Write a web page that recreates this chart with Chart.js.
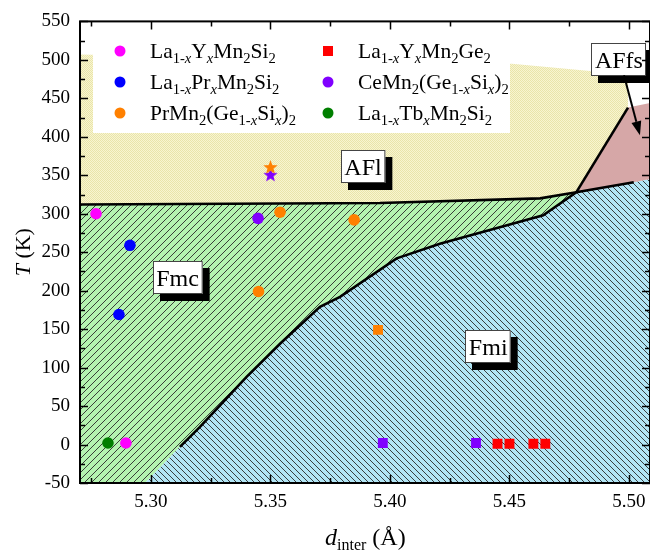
<!DOCTYPE html>
<html><head><meta charset="utf-8">
<script src="https://cdn.jsdelivr.net/npm/chart.js@4.4.0/dist/chart.umd.min.js"></script>
<style>html,body{margin:0;padding:0;background:#fff;}#wrap{width:650px;height:552px;}</style>
</head><body><div id="wrap"><canvas id="c" width="650" height="552"></canvas></div>
<script>
// ---------- data ----------
const xTickValues = [5.30, 5.35, 5.40, 5.45, 5.50];
const yTickValues = [-50, 0, 50, 100, 150, 200, 250, 300, 350, 400, 450, 500, 550];
const xMin = 5.2703, xMax = 5.5088, yMin = -50, yMax = 550;

const seriesNames = [
  'La_{1-x}Y_{x}Mn_{2}Si_{2}',
  'La_{1-x}Pr_{x}Mn_{2}Si_{2}',
  'PrMn_{2}(Ge_{1-x}Si_{x})_{2}',
  'La_{1-x}Y_{x}Mn_{2}Ge_{2}',
  'CeMn_{2}(Ge_{1-x}Si_{x})_{2}',
  'La_{1-x}Tb_{x}Mn_{2}Si_{2}'
];
const seriesColors = ['#ff00ff', '#0000ff', '#ff8000', '#ff0000', '#8000ff', '#007f00'];
const seriesLegendMarker = ['circle', 'circle', 'circle', 'rect', 'circle', 'circle'];

// measured points (x = d_inter in Å, T in K)
const laYSi_x = [5.277, 5.2895],          laYSi_T = [300, 2];
const laPrSi_x = [5.2912, 5.2866],        laPrSi_T = [259, 169];
const prGeSi_circ_x = [5.354, 5.385, 5.345], prGeSi_circ_T = [302, 292, 199];
const prGeSi_sq_x = [5.395],              prGeSi_sq_T = [149];
const prGeSi_star_x = [5.350],            prGeSi_star_T = [360];
const laYGe_x = [5.445, 5.450, 5.460, 5.465], laYGe_T = [1, 1, 1, 1];
const ceGeSi_circ_x = [5.3448],           ceGeSi_circ_T = [294];
const ceGeSi_sq_x = [5.397, 5.436],       ceGeSi_sq_T = [2, 2];
const ceGeSi_star_x = [5.350],            ceGeSi_star_T = [350];
const laTbSi_x = [5.282],                 laTbSi_T = [2];

// phase boundaries
const aflFmc_x = [5.2703, 5.3958, 5.4628, 5.478];
const aflFmc_T = [312, 314, 320, 328];
const fmi_x = [5.3121, 5.3205, 5.3400, 5.3540, 5.3707, 5.3791, 5.4028, 5.4209, 5.4641, 5.478, 5.502];
const fmi_T = [-3, 23, 88, 131, 179, 192, 242, 261, 298, 328, 341];
const affs_x = [5.478, 5.4996];
const affs_T = [328, 438];
// region outline extras
const fmiBottom = {x: 5.2975, T: -50};
const yellowTop_x = [5.4996, 5.451, 5.2703], yellowTop_T = [481, 495, 507];
const pinkTop_x = [5.4996, 5.5088], pinkTop_T = [438, 444];
const rightEdge_T = 345;

// labels (data coords of box centres)
const phaseLabels = [
  {text: 'AFl', x: 5.3887, T: 362},
  {text: 'Fmc', x: 5.3111, T: 217},
  {text: 'Fmi', x: 5.4411, T: 127},
  {text: 'AFfs', x: 5.4958, T: 501}
];
const arrowFrom = {x: 5.4979, T: 480}, arrowTo = {x: 5.5046, T: 402};

// ---------- helpers ----------
const P = (xs, ts) => xs.map((x, i) => ({x: x, y: ts[i]}));
const FONT = '"Liberation Serif", "Times New Roman", serif';

function hatch(bg, dir, p, lw) {
  const c = document.createElement('canvas'); c.width = p; c.height = p;
  const g = c.getContext('2d');
  g.fillStyle = bg; g.fillRect(0, 0, p, p);
  g.strokeStyle = '#2a2a2a'; g.lineWidth = lw;
  g.beginPath();
  for (let k = -1; k <= 1; k++) {
    if (dir === '/') { g.moveTo(k * p - 1, p + 1); g.lineTo(k * p + p + 1, -1); }
    else { g.moveTo(k * p - 1, -1); g.lineTo(k * p + p + 1, p + 1); }
  }
  g.stroke();
  return g.createPattern(c, 'repeat');
}
function dots() {
  const c = document.createElement('canvas'); c.width = 2; c.height = 2;
  const g = c.getContext('2d');
  g.fillStyle = '#f8f5d0'; g.fillRect(0, 0, 2, 2);
  g.fillStyle = '#e9e4aa'; g.fillRect(0, 0, 1, 1); g.fillRect(1, 1, 1, 1);
  return g.createPattern(c, 'repeat');
}
function star(color, R) {
  const s = Math.ceil(2 * R + 2);
  const c = document.createElement('canvas'); c.width = s; c.height = s;
  const g = c.getContext('2d');
  g.fillStyle = color; g.beginPath();
  for (let i = 0; i < 10; i++) {
    const r = i % 2 ? R * 0.42 : R;
    const a = -Math.PI / 2 + i * Math.PI / 5;
    g.lineTo(s / 2 + r * Math.cos(a), s / 2 + r * Math.sin(a));
  }
  g.closePath(); g.fill();
  return c;
}

function richRuns(str) {
  const runs = [];
  const push = (t, sub) => {
    let buf = '';
    for (const ch of t) {
      if (ch === 'x') { if (buf) runs.push({t: buf, sub, it: false}); buf = ''; runs.push({t: 'x', sub, it: true}); }
      else buf += ch;
    }
    if (buf) runs.push({t: buf, sub, it: false});
  };
  let i = 0;
  while (i < str.length) {
    if (str[i] === '_' && str[i + 1] === '{') {
      const j = str.indexOf('}', i); push(str.slice(i + 2, j), true); i = j + 1;
    } else {
      let j = str.indexOf('_{', i); if (j < 0) j = str.length;
      push(str.slice(i, j), false); i = j;
    }
  }
  return runs;
}
function drawRich(ctx, str, x, y, size) {
  ctx.textAlign = 'left'; ctx.textBaseline = 'alphabetic'; ctx.fillStyle = '#000';
  for (const r of richRuns(str)) {
    const fs = r.sub ? size * 0.68 : size;
    ctx.font = (r.it ? 'italic ' : '') + fs + 'px ' + FONT;
    ctx.fillText(r.t, x, y + (r.sub ? size * 0.24 : 0));
    x += ctx.measureText(r.t).width;
  }
  return x;
}

// ---------- regions ----------
const yellowPoly = P(aflFmc_x, aflFmc_T).concat(P(affs_x.slice(1), affs_T.slice(1)), P(yellowTop_x, yellowTop_T));
const fmiPts = P(fmi_x, fmi_T);
const fmcIdx = fmi_x.indexOf(5.478);
const greenPoly = [{x: xMin, y: yMin}, {x: fmiBottom.x, y: fmiBottom.T}]
  .concat(fmiPts.slice(0, fmcIdx + 1), P(aflFmc_x, aflFmc_T).reverse());
const bluePoly = [{x: fmiBottom.x, y: fmiBottom.T}].concat(fmiPts, [{x: xMax, y: rightEdge_T}, {x: xMax, y: yMin}]);
const pinkPoly = P(affs_x, affs_T).concat(P(pinkTop_x, pinkTop_T), [{x: xMax, y: rightEdge_T}], fmiPts.slice(fmcIdx + 1).reverse());

const region = (data, bg, order) => ({type: 'line', data, fill: 'shape', backgroundColor: bg,
  borderWidth: 0, borderColor: 'rgba(0,0,0,0)', pointRadius: 0, tension: 0, order});
const bline = (data) => ({type: 'line', data, fill: false, borderColor: '#000', borderWidth: 2.6,
  pointRadius: 0, tension: 0, order: 5});
const pts = (data, color, style, r) => ({type: 'scatter', data, backgroundColor: color, borderColor: color,
  borderWidth: 0, pointStyle: style, pointRadius: r, pointHoverRadius: r, order: 0});

const datasets = [
  region(yellowPoly, dots(), 20),
  region(greenPoly, hatch('#b4f3b0', '/', 7, 0.9), 19),
  region(bluePoly, hatch('#b2e5f5', '\\', 6, 0.9), 18),
  region(pinkPoly, '#d6a7a7', 17),
  bline(P(aflFmc_x, aflFmc_T)),
  bline(fmiPts),
  bline(P(affs_x, affs_T)),
  pts(P(laYSi_x, laYSi_T), seriesColors[0], 'circle', 5.8),
  pts(P(laPrSi_x, laPrSi_T), seriesColors[1], 'circle', 5.8),
  pts(P(prGeSi_circ_x, prGeSi_circ_T), seriesColors[2], 'circle', 5.8),
  pts(P(prGeSi_sq_x, prGeSi_sq_T), seriesColors[2], 'rect', 7),
  pts(P(prGeSi_star_x, prGeSi_star_T), seriesColors[2], star(seriesColors[2], 7.5), 7),
  pts(P(laYGe_x, laYGe_T), seriesColors[3], 'rect', 7),
  pts(P(ceGeSi_circ_x, ceGeSi_circ_T), seriesColors[4], 'circle', 5.8),
  pts(P(ceGeSi_sq_x, ceGeSi_sq_T), seriesColors[4], 'rect', 7),
  pts(P(ceGeSi_star_x, ceGeSi_star_T), seriesColors[4], star(seriesColors[4], 7.5), 7),
  pts(P(laTbSi_x, laTbSi_T), seriesColors[5], 'circle', 5.8)
];

// ---------- overlay plugin ----------
const overlay = {
  id: 'overlay',
  afterDatasetsDraw(chart) {
    const ctx = chart.ctx, a = chart.chartArea, sx = chart.scales.x, sy = chart.scales.y;
    ctx.save();
    // legend box
    ctx.fillStyle = '#fff';
    ctx.fillRect(93, a.top + 1, 417, 133 - a.top - 1);
    const colX = [120, 328], txtX = [150, 358], rowY = [51, 82, 113];
    seriesNames.forEach((name, i) => {
      const c = Math.floor(i / 3), r = i % 3;
      ctx.fillStyle = seriesColors[i];
      if (seriesLegendMarker[i] === 'rect') ctx.fillRect(colX[c] - 5, rowY[r] - 5, 10, 10);
      else { ctx.beginPath(); ctx.arc(colX[c], rowY[r], 5.5, 0, Math.PI * 2); ctx.fill(); }
      drawRich(ctx, name, txtX[c], rowY[r] + 7, 21.5);
    });
    // phase labels
    ctx.font = '24px ' + FONT;
    phaseLabels.forEach(l => {
      const cx = sx.getPixelForValue(l.x), cy = sy.getPixelForValue(l.T);
      const w = ctx.measureText(l.text).width + 7, h = 33;
      const x0 = Math.round(cx - w / 2), y0 = Math.round(cy - h / 2);
      ctx.fillStyle = '#000'; ctx.fillRect(x0 + 7, y0 + 7, w, h);
      ctx.fillStyle = '#fff'; ctx.fillRect(x0, y0, w, h);
      ctx.strokeStyle = '#444'; ctx.lineWidth = 1; ctx.strokeRect(x0 + 0.5, y0 + 0.5, w - 1, h - 1);
      ctx.fillStyle = '#000'; ctx.textAlign = 'center'; ctx.textBaseline = 'alphabetic';
      ctx.fillText(l.text, cx, y0 + 25);
    });
    // arrow
    const ax0 = sx.getPixelForValue(arrowFrom.x), ay0 = sy.getPixelForValue(arrowFrom.T);
    const ax1 = sx.getPixelForValue(arrowTo.x), ay1 = sy.getPixelForValue(arrowTo.T);
    const ang = Math.atan2(ay1 - ay0, ax1 - ax0), L = 14, W = 5;
    ctx.strokeStyle = '#000'; ctx.lineWidth = 2;
    ctx.beginPath(); ctx.moveTo(ax0, ay0);
    ctx.lineTo(ax1 - L * Math.cos(ang), ay1 - L * Math.sin(ang)); ctx.stroke();
    ctx.fillStyle = '#000'; ctx.beginPath(); ctx.moveTo(ax1, ay1);
    ctx.lineTo(ax1 - L * Math.cos(ang) + W * Math.sin(ang), ay1 - L * Math.sin(ang) - W * Math.cos(ang));
    ctx.lineTo(ax1 - L * Math.cos(ang) - W * Math.sin(ang), ay1 - L * Math.sin(ang) + W * Math.cos(ang));
    ctx.closePath(); ctx.fill();
    // frame
    ctx.strokeStyle = '#000'; ctx.lineWidth = 2;
    ctx.strokeRect(a.left, a.top, a.right - a.left, a.bottom - a.top);
    ctx.lineWidth = 1.5;
    ctx.beginPath();
    const xt = [];
    xTickValues.forEach(v => xt.push([v, 8]));
    for (let i = 0; i <= xTickValues.length; i++) {
      const v = (i === 0 ? xTickValues[0] - 0.025 : xTickValues[i - 1] + 0.025);
      if (v > xMin && v < xMax) xt.push([v, 5]);
    }
    xt.forEach(([v, len]) => {
      const px = Math.round(sx.getPixelForValue(v)) + 0.5;
      ctx.moveTo(px, a.bottom); ctx.lineTo(px, a.bottom - len);
      ctx.moveTo(px, a.top); ctx.lineTo(px, a.top + len);
    });
    const yt = [];
    yTickValues.forEach((v, i) => { yt.push([v, 8]); if (i < yTickValues.length - 1) yt.push([v + 25, 5]); });
    yt.forEach(([v, len]) => {
      const py = Math.round(sy.getPixelForValue(v)) + 0.5;
      ctx.moveTo(a.left, py); ctx.lineTo(a.left + len, py);
      ctx.moveTo(a.right, py); ctx.lineTo(a.right - len, py);
    });
    ctx.stroke();
    // x tick labels (through the x scale)
    ctx.fillStyle = '#000'; ctx.textAlign = 'center'; ctx.textBaseline = 'top';
    ctx.font = '19px ' + FONT;
    xTickValues.forEach(v => ctx.fillText(v.toFixed(2), sx.getPixelForValue(v), a.bottom + 10));
    // axis titles
    ctx.save();
    ctx.translate(24, (a.top + a.bottom) / 2);
    ctx.rotate(-Math.PI / 2);
    ctx.font = 'italic 22px ' + FONT;
    const wT = ctx.measureText('T').width;
    ctx.font = '22px ' + FONT;
    const wK = ctx.measureText(' (K)').width;
    let tx = -(wT + wK) / 2;
    ctx.fillStyle = '#000'; ctx.textAlign = 'left'; ctx.textBaseline = 'middle';
    ctx.font = 'italic 22px ' + FONT; ctx.fillText('T', tx, 0);
    ctx.font = '22px ' + FONT; ctx.fillText(' (K)', tx + wT, 0);
    ctx.restore();
    ctx.fillStyle = '#000'; ctx.textAlign = 'left'; ctx.textBaseline = 'alphabetic';
    let dx = 325;
    ctx.font = 'italic 24px ' + FONT; ctx.fillText('d', dx, 545); dx += ctx.measureText('d').width;
    ctx.font = '16px ' + FONT; ctx.fillText('inter', dx, 550); dx += ctx.measureText('inter').width;
    ctx.font = '24px ' + FONT; ctx.fillText(' (\u00C5)', dx, 545);
    ctx.restore();
  }
};

new Chart(document.getElementById('c'), {
  type: 'scatter',
  data: {datasets},
  options: {
    responsive: false, animation: false,
    layout: {autoPadding: false, padding: {top: 21, right: 0, left: 0, bottom: 0}},
    plugins: {legend: {display: false}, tooltip: {enabled: false}},
    scales: {
      x: {type: 'linear', min: xMin, max: xMax,
        afterBuildTicks: s => { s.ticks = xTickValues.map(v => ({value: v})); },
        afterFit: s => { s.height = 69; },
        grid: {display: false, drawTicks: false}, border: {display: false},
        ticks: {display: false}},
      y: {type: 'linear', min: yMin, max: yMax,
        afterBuildTicks: s => { s.ticks = yTickValues.map(v => ({value: v})); },
        afterFit: s => { s.width = 80; },
        grid: {display: false, drawTicks: false}, border: {display: false},
        ticks: {callback: v => String(v), color: '#000', padding: 10, autoSkip: false,
          font: {family: FONT, size: 19}}}
    }
  },
  plugins: [overlay]
});
</script>
</body></html>
